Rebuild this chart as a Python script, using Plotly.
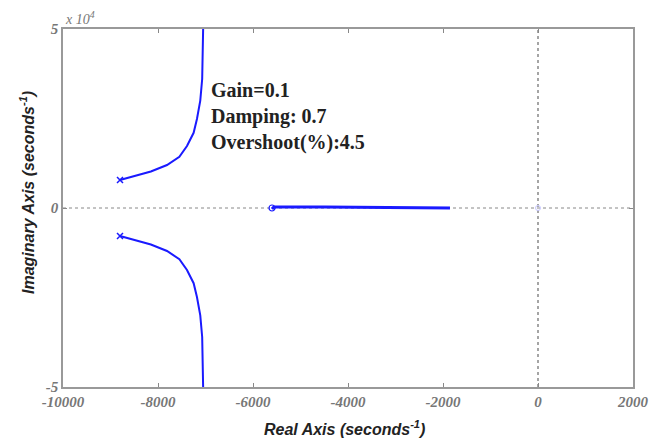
import plotly.graph_objects as go

# Root locus branches
upper_re = [-8800, -8500, -8150, -7810, -7550, -7390, -7250, -7180, -7110, -7070, -7055, -7050]
upper_im = [7800, 8900, 10200, 12010, 14300, 17320, 21000, 24860, 30000, 36030, 43000, 50000]
lower_re = upper_re
lower_im = [-v for v in upper_im]
real_re = [-5600, -5560, -4500, -3500, -2500, -1853]
real_im = [-300, 300, 300, 250, 200, 0]
poles_re = [-8800, -8800]
poles_im = [7800, -7800]
zeros_re = [-5600]
zeros_im = [0]
origin_re = [0]
origin_im = [0]

xticks = [-10000, -8000, -6000, -4000, -2000, 0, 2000]
xticktext = ["-10000", "-8000", "-6000", "-4000", "-2000", "0", "2000"]
yticks = [-50000, 0, 50000]
yticktext = ["-5", "0", "5"]

blue = "#1a1aff"
fig = go.Figure()
for xs, ys, w in [(upper_re, upper_im, 2), (lower_re, lower_im, 2), (real_re, real_im, 3)]:
    fig.add_trace(go.Scatter(x=xs, y=ys, mode="lines", line=dict(color=blue, width=w),
                             showlegend=False, hoverinfo="skip"))
fig.add_trace(go.Scatter(x=poles_re, y=poles_im, mode="markers",
                         marker=dict(symbol="x-thin", size=6, line=dict(color=blue, width=1.5)),
                         showlegend=False))
fig.add_trace(go.Scatter(x=zeros_re, y=zeros_im, mode="markers",
                         marker=dict(symbol="circle-open", size=6, color=blue, line=dict(width=1.2)),
                         showlegend=False))
fig.add_trace(go.Scatter(x=origin_re, y=origin_im, mode="markers",
                         marker=dict(symbol="circle-open", size=5, color="#c8c8ff", line=dict(width=1)),
                         showlegend=False))

# dotted axes lines at 0
fig.add_shape(type="line", x0=-10000, x1=2000, y0=0, y1=0, layer="below",
              line=dict(color="#888888", width=1, dash="3px,3px"))
fig.add_shape(type="line", x0=0, x1=0, y0=-50000, y1=50000, layer="below",
              line=dict(color="#888888", width=1.5, dash="dot"))

tickfont = dict(family="Liberation Serif", size=15, color="#777777", style="italic", weight="bold")
titlefont = dict(family="Liberation Sans", size=16, color="#222222", style="italic", weight="bold")

fig.update_xaxes(range=[-10000, 2000], tickvals=xticks, ticktext=xticktext, ticks="inside", ticklen=4,
                 tickcolor="#888888", showgrid=False, zeroline=False, showline=True,
                 linecolor="#999999", linewidth=1.5, mirror="ticks", tickfont=tickfont)
fig.update_yaxes(range=[-50000, 50000], tickvals=yticks, ticktext=yticktext, ticks="inside",
                 ticklen=4, tickcolor="#888888", showgrid=False, zeroline=False, showline=True,
                 linecolor="#999999", linewidth=1.5, mirror="ticks", tickfont=tickfont)

fig.add_annotation(x=0.5, y=0, xref="paper", yref="paper", xanchor="center", yanchor="middle",
                   yshift=-41, xshift=-4, text="Real Axis (seconds<sup>-1</sup>)", showarrow=False,
                   font=titlefont)
fig.add_annotation(x=0, y=0.5, xref="paper", yref="paper", xanchor="center", yanchor="middle",
                   xshift=-36, yshift=15, textangle=-90, text="Imaginary Axis (seconds<sup>-1</sup>)",
                   showarrow=False, font=titlefont)

fig.add_annotation(x=0, y=1, xref="paper", yref="paper", xanchor="left", yanchor="bottom",
                   text="x 10<sup>4</sup>", showarrow=False, yshift=0,
                   font=dict(family="Liberation Serif", size=14, color="#777777", style="italic"))

fig.add_annotation(x=-6920, y=25500, xref="x", yref="y", xanchor="left", yanchor="middle",
                   align="left", showarrow=False,
                   text="Gain=0.1<br>Damping: 0.7<br>Overshoot(%):4.5",
                   font=dict(family="Liberation Serif", size=20, color="#222222", weight="bold"))

fig.update_layout(width=663, height=438, margin=dict(l=63, r=30, t=29, b=51),
                  plot_bgcolor="white", paper_bgcolor="white")
fig.write_html("out.html")
